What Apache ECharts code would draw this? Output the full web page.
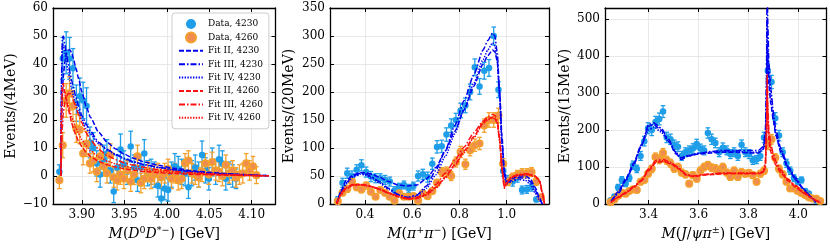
<!DOCTYPE html>
<html><head><meta charset="utf-8">
<script src="https://cdn.jsdelivr.net/npm/echarts@6/dist/echarts.min.js"></script>
<style>html,body{margin:0;padding:0;background:#fff}#c{width:830px;height:249px}</style>
</head><body><div id="c"></div>
<script>
// ---------------- Panel 1 : M(D0 D*-) ----------------
const p1BinLo = 3.8715, p1BinW = 0.004;
const p1Data4230 = [1.5,42,44,42,38.5,26,28.5,27,25,12,10,4.5,0.5,6,8,2,-5.5,3,9.5,4,1.5,10.5,3,-1.5,3,8,1,1.5,0.5,-3.5,-8,-4.5,-5,0.5,3.5,2.5,1.5,1,-4,1,3,0.5,7.5,2,-1,5,1.5,6,4.5,-1,1,0,-1];
const p1Err4230 = [2.5,7.5,7.5,7.5,7,6.5,6.5,6.5,6.5,5.5,5.5,4.5,4.5,5,5,4.5,4,4.5,5.5,5,4.5,5.5,4.5,4,4.5,5,4.5,4.5,4.5,4,3.5,4,4,4.5,4.5,4.5,4.5,4.5,4,4.5,4.5,4.5,5,4.5,4,5,4.5,5,4.5,4,4,4,3.5];
const p1Data4260 = [-1.5,11,27,29.5,25,17,16.5,8,11.5,4.5,5.5,1.5,7,3.5,1,7.5,-0.5,-1.5,0.5,-1,2,-2,0.5,7,-2.5,-1,1.5,-1,0.5,1,-0.5,1,2.5,-1,1,-1.5,-1,4.5,5.5,1,0.5,-0.5,1.5,4.5,0.5,5,2,1.5,0,4,1,2,-0.5,0.5,1,4.5,2,3.5,0.3];
const p1Err4260 = [3,4.5,6,6,5.5,5,5,4,4.5,3.5,4,3.5,4,3.5,3.5,4,3.5,3.5,3.5,3.5,3.5,3.5,3.5,4,3.5,3.5,3.5,3.5,3.5,3.5,3.5,3.5,3.5,3.5,3.5,3.5,3.5,3.5,3.5,3.5,3.5,3.5,3.5,3.5,3.5,3.5,3.5,3.5,3.5,3.5,3.5,3.5,3.5,3.5,3.5,3.5,3.5,3.5,3];
const p1FitX = [3.8752,3.876,3.877,3.878,3.880,3.882,3.884,3.886,3.888,3.890,3.893,3.896,3.900,3.905,3.910,3.920,3.930,3.940,3.950,3.960,3.975,3.990,4.010,4.030,4.050,4.070,4.090,4.110,4.120];
const p1FitII4230  = [0,18,28,35,41,44,45,45,44,42,38.5,35,30,25,21,15.5,12,9.6,7.8,6.4,4.9,3.8,2.7,1.9,1.3,0.85,0.5,0.2,0.1];
const p1FitIII4230 = [0,36,49,50,47,43,40,37,34,31.5,28,25,21.5,18.5,16,12,9.5,7.7,6.3,5.2,4,3.1,2.2,1.6,1.1,0.75,0.45,0.2,0.1];
const p1FitIV4230  = [0,32,46,47,44,40,37,34,31,28.5,25.5,23,20,17,15,11.5,9.2,7.5,6.1,5,3.9,3,2.1,1.5,1.05,0.7,0.4,0.2,0.1];
const p1FitII4260  = [0,24,32,33,30,27,24,21.5,19,17,14.5,12.5,10.5,8.5,7,5.2,4,3.2,2.6,2.1,1.6,1.2,0.85,0.6,0.45,0.3,0.2,0.1,0.05];
const p1FitIII4260 = [0,10,17,22,26.5,28.5,29.5,29.5,28.5,27,24.5,22,19,15.5,13,9.5,7.3,5.8,4.7,3.9,3,2.3,1.6,1.15,0.8,0.55,0.35,0.15,0.05];
const p1FitIV4260  = [0,22,30,31,29,27,25,23,21,19.5,17,15,13,10.8,9,6.8,5.3,4.3,3.5,2.9,2.2,1.7,1.2,0.85,0.6,0.4,0.25,0.1,0.05];
const p1XTicks = [3.90,3.95,4.00,4.05,4.10];
const p1YTicks = [-10,0,10,20,30,40,50,60];

// ---------------- Panel 2 : M(pi+ pi-) ----------------
const p2BinLo = 0.275, p2BinW = 0.02;
const p2Data4230 = [8,38,55,50,61,69,57,49,46,46,43,40,24,30,34,28,32,50,53,48,72,102,103,124,140,150,167,176,200,244,210,238,243,300,204,59,43,40,47,25,26,30,8];
const p2Err4230  = [5,8,9,9,9,10,9,9,8,8,8,8,7,7,7,7,7,9,9,9,10,11,11,12,12,12,13,13,14,15,14,15,15,16,14,9,8,8,8,7,7,7,4];
const p2Data4260 = [5,20,27,40,30,26,33,22,13,25,20,13,6,19,13,13,14,6,19,14,23,38,57,58,50,75,93,71,96,105,108,140,150,150,158,72,40,48,52,55,55,57,40,12];
const p2Err4260  = [3,5,6,7,6,6,6,5,4,5,5,4,3,5,4,4,4,3,5,4,5,6,8,8,8,9,10,9,10,11,11,12,13,13,13,9,7,7,8,8,8,8,7,4];
const p2FitX4230 = [0.28,0.30,0.32,0.35,0.38,0.40,0.43,0.46,0.50,0.54,0.58,0.62,0.66,0.70,0.74,0.78,0.82,0.86,0.90,0.92,0.94,0.95,0.96,0.97,0.98,0.99,1.00,1.02,1.05,1.08,1.10,1.12,1.14,1.15];
const p2FitII4230  = [0,25,42,52,56,56,53,48,40,34,32,34,45,65,95,130,168,210,250,265,275,272,255,200,120,60,40,45,50,50,45,30,10,0];
const p2FitIII4230 = [0,22,38,50,55,54,48,40,28,17,12,16,32,60,95,140,185,230,275,292,305,300,270,200,110,50,38,42,47,46,40,25,8,0];
const p2FitIV4230  = [0,20,36,48,53,52,46,38,26,16,11,14,28,52,85,125,170,215,258,275,288,282,255,190,105,48,36,40,44,42,35,20,5,0];
const p2FitX4260 = [0.28,0.30,0.32,0.35,0.38,0.40,0.43,0.46,0.50,0.54,0.58,0.62,0.66,0.70,0.74,0.78,0.82,0.86,0.90,0.92,0.94,0.95,0.96,0.97,0.98,0.99,1.00,1.02,1.05,1.08,1.10,1.12,1.14,1.15,1.16];
const p2FitII4260  = [0,18,28,34,35,34,31,27,20,13,9,10,17,30,48,70,95,120,145,152,155,153,145,115,65,30,38,48,52,53,52,50,40,20,0];
const p2FitIII4260 = [0,20,30,35,35,34,31,27,20,14,10,12,20,35,55,78,102,127,148,156,160,158,150,118,60,28,38,48,53,54,53,50,42,22,0];
const p2FitIV4260  = [0,17,27,33,34,33,30,26,19,13,9,10,16,28,46,68,92,118,143,150,154,152,144,112,62,30,37,47,51,52,51,49,40,20,0];
const p2XTicks = [0.4,0.6,0.8,1.0];
const p2YTicks = [0,50,100,150,200,250,300,350];

// ---------------- Panel 3 : M(J/psi pi) ----------------
const p3BinLo = 3.24, p3BinW = 0.015;
const p3Data4230 = [10,20,45,65,55,70,105,95,130,170,205,200,222,230,250,180,175,160,155,130,140,145,150,162,150,145,192,175,165,140,152,145,135,140,130,160,140,135,118,120,130,180,360,330,232,185,140,110,90,70,60,65,35,28,15,8];
const p3Err4230  = [4,6,8,9,8,9,11,10,12,13,15,15,15,16,16,14,14,13,13,12,12,12,13,13,12,12,14,14,13,12,13,12,12,12,12,13,12,12,11,11,12,14,19,18,15,14,12,11,10,9,8,8,6,6,4,3];
const p3Data4260 = [5,12,22,30,28,35,40,38,60,65,82,95,127,120,138,118,110,96,100,85,80,55,78,68,90,100,105,98,96,90,100,85,73,90,73,86,82,84,78,60,82,90,160,175,125,95,80,60,42,42,35,30,24,18,15,14,8];
const p3Err4260  = [3,4,5,6,6,6,7,7,8,8,9,10,11,11,12,11,11,10,10,9,9,8,9,8,10,10,10,10,10,10,10,9,9,10,9,9,9,9,9,8,9,10,13,13,11,10,9,8,7,7,6,6,5,5,4,4,3];
const p3FitX4230 = [3.25,3.28,3.31,3.34,3.37,3.40,3.42,3.45,3.48,3.51,3.53,3.56,3.60,3.65,3.70,3.75,3.80,3.84,3.86,3.868,3.872,3.875,3.878,3.882,3.89,3.90,3.91,3.93,3.96,3.99,4.02,4.05,4.07];
const p3FitII4230  = [8,35,70,110,160,210,215,200,170,135,125,130,135,138,140,140,138,138,148,175,250,430,380,320,270,225,185,140,95,65,40,18,5];
const p3FitIII4230 = [5,30,65,105,155,215,220,205,175,138,120,130,137,142,145,145,145,145,155,200,320,600,480,380,310,250,200,150,100,70,42,20,5];
const p3FitIV4230  = [6,32,67,108,158,200,208,195,168,140,126,132,137,140,142,142,140,140,150,185,280,500,420,350,290,235,190,145,98,67,41,19,5];
const p3FitX4260 = [3.25,3.28,3.31,3.34,3.37,3.40,3.43,3.46,3.49,3.52,3.55,3.58,3.62,3.66,3.70,3.75,3.80,3.84,3.86,3.868,3.872,3.875,3.878,3.882,3.89,3.90,3.91,3.93,3.96,3.99,4.02,4.05,4.07,4.09];
const p3FitII4260  = [5,18,30,45,62,90,112,115,108,95,78,74,78,80,82,82,82,82,86,100,160,280,220,170,140,120,105,85,62,45,30,17,9,3];
const p3FitIII4260 = [5,20,32,47,64,95,118,120,112,98,80,76,80,82,84,84,84,84,88,115,200,350,260,200,160,135,115,92,66,50,33,19,10,3];
const p3FitIV4260  = [5,19,31,46,63,92,115,117,110,96,79,75,79,81,83,83,83,83,87,108,180,320,240,185,150,128,110,88,64,47,31,18,9,3];
const p3XTicks = [3.4,3.6,3.8,4.0];
const p3YTicks = [0,100,200,300,400,500];

const legendNames = ['Data, 4230','Data, 4260','Fit II, 4230','Fit III, 4230','Fit IV, 4230','Fit II, 4260','Fit III, 4260','Fit IV, 4260'];

// ---------------- styling ----------------
const FONT = 'DejaVu Serif';
const C_D4230 = '#1e9de8', C_D4260 = '#f5a02c', C_D4260_FACE = '#ee8c52';
const C_BLUE = '#0000f0', C_RED = '#ff1010';
const DASH = [5, 2], DASHDOT = [6, 2, 1.5, 2], DOT = [1.4, 1.4];

const grids = [
  {left: 53, top: 8, width: 222.5, height: 196, outerBoundsMode: 'none'},
  {left: 330, top: 8, width: 219, height: 196, outerBoundsMode: 'none'},
  {left: 605, top: 8, width: 221.5, height: 196, outerBoundsMode: 'none'}
];

const richName = {
  i: {fontFamily: FONT, fontStyle: 'italic', fontSize: 14, color: '#000'},
  s: {fontFamily: FONT, fontStyle: 'normal', fontSize: 9.5, color: '#000', verticalAlign: 'top', lineHeight: 10}
};

const fmtY = v => v < 0 ? '\u2212' + Math.abs(v) : String(v);

function xAxes(gi, min, max, ticks, dec, name) {
  const common = {type: 'value', gridIndex: gi, min, max,
    axisLine: {show: true, onZero: false, lineStyle: {color: '#000', width: 1.3}},
    axisTick: {show: true, inside: true, length: 4, customValues: ticks, lineStyle: {color: '#000', width: 1}}};
  return [
    Object.assign({}, common, {position: 'bottom',
      axisLabel: {show: true, customValues: ticks, formatter: v => v.toFixed(dec), fontFamily: FONT, fontSize: 12, color: '#000', margin: 5},
      splitLine: {show: true, lineStyle: {color: '#e2e2e2', width: 0.8}},
      name, nameLocation: 'middle', nameGap: 18,
      nameTextStyle: {fontFamily: FONT, fontSize: 14, color: '#000', lineHeight: 17, rich: richName}}),
    Object.assign({}, common, {position: 'top', axisLabel: {show: false}, splitLine: {show: false}})
  ];
}
function yAxes(gi, min, max, ticks, name, gap) {
  const common = {type: 'value', gridIndex: gi, min, max,
    axisLine: {show: true, onZero: false, lineStyle: {color: '#000', width: 1.3}},
    axisTick: {show: true, inside: true, length: 4, customValues: ticks, lineStyle: {color: '#000', width: 1}}};
  return [
    Object.assign({}, common, {position: 'left',
      axisLabel: {show: true, customValues: ticks, formatter: fmtY, fontFamily: FONT, fontSize: 12, color: '#000', margin: 5},
      splitLine: {show: true, lineStyle: {color: '#e2e2e2', width: 0.8}},
      name, nameLocation: 'middle', nameGap: gap,
      nameTextStyle: {fontFamily: FONT, fontSize: 14, color: '#000'}}),
    Object.assign({}, common, {position: 'right', axisLabel: {show: false}, splitLine: {show: false}})
  ];
}

function centers(lo, w, n) { const out = []; for (let i = 0; i < n; i++) out.push(+(lo + w * (i + 0.5)).toFixed(5)); return out; }
function pairs(xs, ys) { return ys.map((y, i) => [xs[i], y]); }

function errSeries(axIdx, xs, ys, es, color) {
  return {
    type: 'custom', name: 'err', xAxisIndex: axIdx * 2, yAxisIndex: axIdx * 2, z: 2, silent: true, clip: true,
    data: ys.map((y, i) => [xs[i], y, es[i]]),
    encode: {x: 0, y: 1},
    renderItem(params, api) {
      const x = api.value(0), y = api.value(1), e = api.value(2);
      const t = api.coord([x, y + e]), b = api.coord([x, y - e]);
      const hw = 2.3, st = {stroke: color, lineWidth: 1.3};
      return {type: 'group', children: [
        {type: 'line', shape: {x1: t[0], y1: t[1], x2: b[0], y2: b[1]}, style: st},
        {type: 'line', shape: {x1: t[0] - hw, y1: t[1], x2: t[0] + hw, y2: t[1]}, style: st},
        {type: 'line', shape: {x1: b[0] - hw, y1: b[1], x2: b[0] + hw, y2: b[1]}, style: st}
      ]};
    }
  };
}
function dataSeries(axIdx, name, xs, ys, is4260) {
  return {
    type: 'scatter', name, xAxisIndex: axIdx * 2, yAxisIndex: axIdx * 2, z: 3, silent: true,
    symbol: 'circle', symbolSize: 6.5,
    data: pairs(xs, ys),
    itemStyle: is4260 ? {color: C_D4260_FACE, borderColor: C_D4260, borderWidth: 1.6, opacity: 1} : {color: C_D4230, opacity: 1}
  };
}
function fitSeries(axIdx, name, xs, ys, color, dash) {
  return {
    type: 'line', name, xAxisIndex: axIdx * 2, yAxisIndex: axIdx * 2, z: 4, silent: true,
    data: pairs(xs, ys), showSymbol: false, symbol: 'none', smooth: 0.2, smoothMonotone: 'x',
    lineStyle: {color, width: 1.5, type: dash}, itemStyle: {color}
  };
}

const series = [];
function panel(idx, lo, w, d30, e30, d60, e60, fx30, f30, fx60, f60) {
  const x30 = centers(lo, w, d30.length), x60 = centers(lo, w, d60.length);
  series.push(errSeries(idx, x30, d30, e30, C_D4230));
  series.push(errSeries(idx, x60, d60, e60, C_D4260));
  series.push(dataSeries(idx, 'Data, 4230', x30, d30, false));
  series.push(dataSeries(idx, 'Data, 4260', x60, d60, true));
  const dashes = [DASH, DASHDOT, DOT], lbl = ['II', 'III', 'IV'];
  f30.forEach((f, k) => series.push(fitSeries(idx, 'Fit ' + lbl[k] + ', 4230', fx30, f, C_BLUE, dashes[k])));
  f60.forEach((f, k) => series.push(fitSeries(idx, 'Fit ' + lbl[k] + ', 4260', fx60, f, C_RED, dashes[k])));
}
panel(0, p1BinLo, p1BinW, p1Data4230, p1Err4230, p1Data4260, p1Err4260,
  p1FitX, [p1FitII4230, p1FitIII4230, p1FitIV4230], p1FitX, [p1FitII4260, p1FitIII4260, p1FitIV4260]);
panel(1, p2BinLo, p2BinW, p2Data4230, p2Err4230, p2Data4260, p2Err4260,
  p2FitX4230, [p2FitII4230, p2FitIII4230, p2FitIV4230], p2FitX4260, [p2FitII4260, p2FitIII4260, p2FitIV4260]);
panel(2, p3BinLo, p3BinW, p3Data4230, p3Err4230, p3Data4260, p3Err4260,
  p3FitX4230, [p3FitII4230, p3FitIII4230, p3FitIV4230], p3FitX4260, [p3FitII4260, p3FitIII4260, p3FitIV4260]);

const option = {
  animation: false,
  backgroundColor: '#ffffff',
  grid: grids,
  xAxis: [
    ...xAxes(0, 3.866, 4.128, p1XTicks, 2, '{i|M}({i|D}{s|0}{i|D}{s|*\u2212}) [GeV]'),
    ...xAxes(1, 0.252, 1.179, p2XTicks, 1, '{i|M}({i|\u03c0}{s|+}{i|\u03c0}{s|\u2212}) [GeV]'),
    ...xAxes(2, 3.225, 4.113, p3XTicks, 1, '{i|M}({i|J}/{i|\u03c8\u03c0}{s|\u00b1}) [GeV]')
  ],
  yAxis: [
    ...yAxes(0, -10, 60, p1YTicks, 'Events/(4MeV)', 35),
    ...yAxes(1, 0, 350, p2YTicks, 'Events/(20MeV)', 34),
    ...yAxes(2, 0, 530, p3YTicks, 'Events/(15MeV)', 33)
  ],
  legend: {
    data: legendNames.map((n, i) => i < 2 ? {name: n, icon: 'circle'}
                                          : {name: n, itemStyle: {opacity: 0, color: 'rgba(0,0,0,0)', borderWidth: 0}}),
    orient: 'vertical', left: 172, top: 13,
    itemWidth: 24, itemHeight: 10, itemGap: 1.4,
    padding: [5, 6, 5, 6],
    backgroundColor: 'rgba(255,255,255,0.85)', borderColor: '#cccccc', borderWidth: 1, borderRadius: 3,
    textStyle: {fontFamily: FONT, fontSize: 9, color: '#000', lineHeight: 12},
    selectedMode: false
  },
  series
};
const chart = echarts.init(document.getElementById('c'), null, {renderer: 'canvas'});
chart.setOption(option);
</script></body></html>
